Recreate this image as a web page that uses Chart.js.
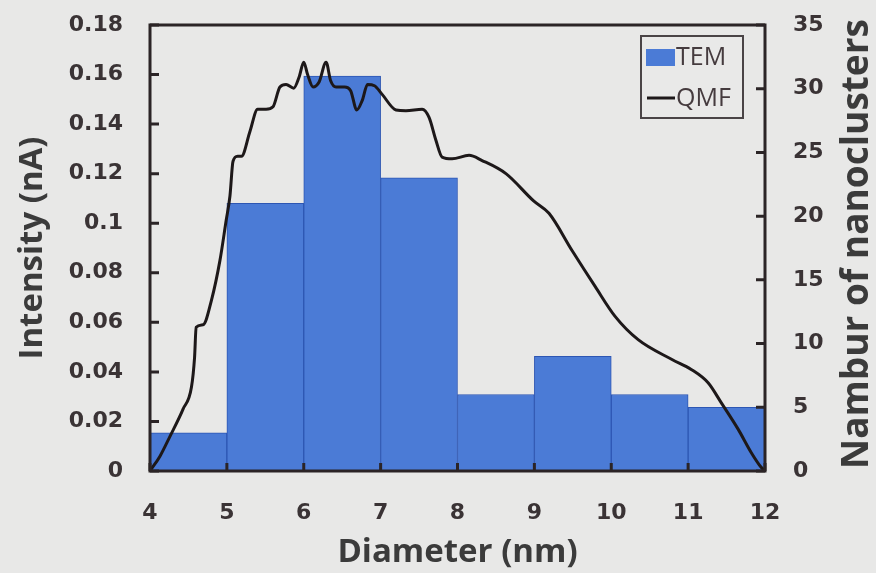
<!DOCTYPE html>
<html>
<head>
<meta charset="utf-8">
<title>Nanocluster size distribution</title>
<script src="https://cdn.jsdelivr.net/npm/chart.js@4/dist/chart.umd.min.js"></script>
<style>
  html, body { margin: 0; padding: 0; background: #e8e8e7; }
  #wrap { width: 876px; height: 573px; }
</style>
</head>
<body>
<div id="wrap"><canvas id="chart" width="876" height="573"></canvas></div>
<script>
// TEM histogram: 1 nm bins, centres and counts
const temBinCenters = [4.5, 5.5, 6.5, 7.5, 8.5, 9.5, 10.5, 11.5];
const temCounts = [3, 21, 31, 23, 6, 9, 6, 5];

// QMF spectrum: diameter (nm) and measured intensity (nA)
const qmfDiameter = [
  4.00, 4.13, 4.26, 4.43, 4.54, 4.58, 4.60, 4.69, 4.80, 4.91,
  4.99, 5.04, 5.08, 5.14, 5.19, 5.30, 5.40, 5.51, 5.60, 5.69,
  5.77, 5.87, 5.94, 6.00, 6.05, 6.12, 6.20, 6.29, 6.35, 6.42,
  6.53, 6.61, 6.69, 6.76, 6.83, 6.92, 7.02, 7.20, 7.33, 7.54,
  7.63, 7.72, 7.80, 7.93, 8.15, 8.32, 8.63, 8.99, 9.19, 9.49,
  9.79, 10.05, 10.35, 10.79, 11.04, 11.26, 11.43, 11.65, 11.82, 11.95,
  12.00
];
const qmfIntensity = [
  0.000, 0.006, 0.014, 0.025, 0.034, 0.046, 0.058, 0.059, 0.069, 0.085,
  0.101, 0.111, 0.125, 0.127, 0.127, 0.137, 0.146, 0.146, 0.147, 0.155,
  0.156, 0.1545, 0.159, 0.165, 0.160, 0.155, 0.157, 0.165, 0.1575, 0.155,
  0.155, 0.1535, 0.1457, 0.1495, 0.156, 0.1555, 0.152, 0.1457, 0.1454, 0.146,
  0.1427, 0.1334, 0.1267, 0.126, 0.1274, 0.1253, 0.120, 0.109, 0.104, 0.089,
  0.0745, 0.0624, 0.053, 0.045, 0.041, 0.0356, 0.0276, 0.0169, 0.0075, 0.0015,
  0.000
];

const diameterTicks = ['4', '5', '6', '7', '8', '9', '10', '11', '12'];
const intensityTicks = ['0', '0.02', '0.04', '0.06', '0.08', '0.1', '0.12', '0.14', '0.16', '0.18'];
const countTicks = ['0', '5', '10', '15', '20', '25', '30', '35'];

const AXIS = '#2b2426';
const LABEL = '#3a3335';
const TITLE = '#3b3b3b';
const BAR = '#4b7bd6';
const BAR_EDGE = '#2d56b3';
const LINE = '#1d1819';

const tickFont = { family: 'DejaVu Sans', weight: 'bold', size: 22 };
const titleFamily = '"Open Sans", "DejaVu Sans", sans-serif';

// fixed axis sizes so the plot area stays put; label overhang is ignored
function pinVertical(width) {
  return (s) => { s.width = width; s.paddingTop = 0; s.paddingBottom = 0; };
}
function pinHorizontal(height) {
  return (s) => { s.height = height; s.paddingLeft = 0; s.paddingRight = 0; };
}

// inward tick marks plus a closed frame around the plot area
const frameAndTicks = {
  id: 'frameAndTicks',
  afterDatasetsDraw(chart) {
    const { ctx, chartArea: a, scales } = chart;
    ctx.save();
    ctx.strokeStyle = AXIS;
    ctx.lineWidth = 3;
    ctx.beginPath();
    scales.x.ticks.forEach((t, i) => {
      const px = scales.x.getPixelForTick(i);
      ctx.moveTo(px, a.bottom);
      ctx.lineTo(px, a.bottom - 8);
    });
    scales.y.ticks.forEach((t, i) => {
      const py = scales.y.getPixelForTick(i);
      ctx.moveTo(a.left, py);
      ctx.lineTo(a.left + 9, py);
    });
    scales.y1.ticks.forEach((t, i) => {
      const py = scales.y1.getPixelForTick(i);
      ctx.moveTo(a.right, py);
      ctx.lineTo(a.right - 9, py);
    });
    ctx.stroke();
    ctx.strokeRect(a.left, a.top, a.right - a.left, a.bottom - a.top);
    ctx.restore();
  }
};

// boxed legend in the upper right corner of the plot
const boxLegend = {
  id: 'boxLegend',
  afterDraw(chart) {
    const { ctx, chartArea: a } = chart;
    const x = a.right - 124, y = a.top + 11, w = 102, h = 82;
    ctx.save();
    ctx.fillStyle = '#e9e9e8';
    ctx.fillRect(x, y, w, h);
    ctx.strokeStyle = '#4a4446';
    ctx.lineWidth = 2;
    ctx.strokeRect(x, y, w, h);

    ctx.fillStyle = BAR;
    ctx.fillRect(x + 5, y + 13, 29, 17);

    ctx.strokeStyle = LINE;
    ctx.lineWidth = 3;
    ctx.beginPath();
    ctx.moveTo(x + 6, y + 62);
    ctx.lineTo(x + 34, y + 62);
    ctx.stroke();

    ctx.fillStyle = '#453b3e';
    ctx.font = '25px ' + titleFamily;
    ctx.textBaseline = 'middle';
    ctx.textAlign = 'left';
    ctx.fillText('TEM', x + 35, y + 22);
    ctx.fillText('QMF', x + 35, y + 63);
    ctx.restore();
  }
};

// right-hand axis title, reading bottom to top
const rightTitle = {
  id: 'rightTitle',
  afterDraw(chart) {
    const { ctx, chartArea: a } = chart;
    ctx.save();
    ctx.translate(857, (a.top + a.bottom) / 2 - 4);
    ctx.rotate(-Math.PI / 2);
    ctx.fillStyle = TITLE;
    ctx.font = 'bold 37px ' + titleFamily;
    ctx.textAlign = 'center';
    ctx.textBaseline = 'middle';
    ctx.fillText('Nambur of nanoclusters', 0, 0);
    ctx.restore();
  }
};

new Chart(document.getElementById('chart'), {
  type: 'bar',
  data: {
    datasets: [
      {
        type: 'line',
        label: 'QMF',
        data: qmfDiameter.map((d, i) => ({ x: d, y: qmfIntensity[i] })),
        yAxisID: 'y',
        borderColor: LINE,
        borderWidth: 3,
        pointRadius: 0,
        fill: false,
        cubicInterpolationMode: 'monotone',
        order: 1,
      },
      {
        type: 'bar',
        label: 'TEM',
        data: temBinCenters.map((c, i) => ({ x: c, y: temCounts[i] })),
        yAxisID: 'y1',
        backgroundColor: BAR,
        borderColor: BAR_EDGE,
        borderWidth: 1,
        barPercentage: 1,
        categoryPercentage: 1,
        order: 2,
      },
    ],
  },
  options: {
    responsive: false,
    animation: false,
    events: [],
    layout: { padding: { top: 25, left: 0, right: 0, bottom: 0 } },
    plugins: { legend: { display: false }, tooltip: { enabled: false } },
    scales: {
      x: {
        type: 'linear',
        offset: false,
        min: 4,
        max: 12,
        grid: { display: false },
        border: { display: false },
        ticks: {
          stepSize: 1,
          padding: 21,
          color: LABEL,
          font: tickFont,
          maxRotation: 0,
          callback: (v, i) => diameterTicks[i],
        },
        title: {
          display: true,
          text: 'Diameter (nm)',
          color: TITLE,
          font: { family: titleFamily, weight: 'bold', size: 33 },
          padding: { top: 0, bottom: 1 },
        },
        afterFit: pinHorizontal(102),
      },
      y: {
        position: 'left',
        min: 0,
        max: 0.18,
        grid: { display: false },
        border: { display: false },
        ticks: {
          stepSize: 0.02,
          padding: 19,
          color: LABEL,
          font: tickFont,
          callback: (v, i) => intensityTicks[i],
        },
        title: {
          display: true,
          text: 'Intensity (nA)',
          color: TITLE,
          font: { family: titleFamily, weight: 'bold', size: 33 },
          padding: { top: 13, bottom: 0 },
        },
        afterFit: pinVertical(150),
      },
      y1: {
        position: 'right',
        min: 0,
        max: 35,
        grid: { display: false },
        border: { display: false },
        ticks: {
          stepSize: 5,
          padding: 20,
          color: LABEL,
          font: tickFont,
          callback: (v, i) => countTicks[i],
        },
        afterFit: pinVertical(111),
      },
    },
  },
  plugins: [frameAndTicks, boxLegend, rightTitle],
});
</script>
</body>
</html>
